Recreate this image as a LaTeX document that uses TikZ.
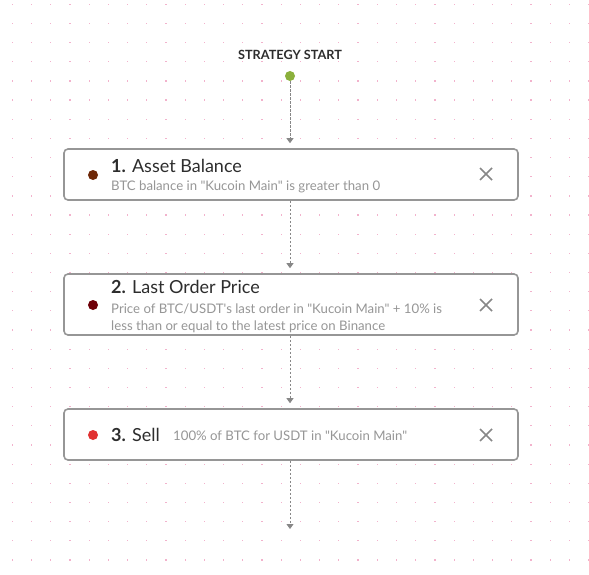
\documentclass[tikz,border=0pt]{standalone}
\usepackage{fontspec}
\setmainfont{Lato}[Ligatures=TeXOff]
\usetikzlibrary{arrows.meta,calc}
\definecolor{gridpink}{RGB}{242,178,204}
\definecolor{boxgray}{RGB}{150,150,150}
\definecolor{subgray}{RGB}{150,150,150}
\definecolor{titlegray}{RGB}{45,45,45}
\definecolor{startgreen}{RGB}{139,176,60}
\definecolor{brown1}{RGB}{110,40,8}
\definecolor{darkred2}{RGB}{110,0,8}
\definecolor{red3}{RGB}{225,50,50}
\definecolor{linegray}{RGB}{135,135,135}
\tikzset{
  px/.style={x=1pt,y=-1pt},
  stepbox/.style={draw=boxgray,line width=1.6pt,rounded corners=4pt,fill=white,minimum width=454pt,inner sep=0pt},
  dotmark/.style={circle,inner sep=0pt,minimum size=10pt},
  closex/.style={draw=linegray,line width=1.6pt},
  flow/.style={draw=linegray,line width=0.8pt,dash pattern=on 2.5pt off 1.5pt,shorten >=5pt,-{Triangle[length=5pt,width=7pt]}},
  ttl/.style={anchor=base west,text=titlegray,font=\fontsize{18}{20}\selectfont,inner sep=0pt},
  sub/.style={anchor=base west,text=subgray,font=\fontsize{13.2}{17.5}\selectfont,inner sep=0pt,align=left},
}
\begin{document}
\begin{tikzpicture}[px]
\useasboundingbox (0,0) rectangle (589,575);
\fill[white] (0,0) rectangle (589,575);
\foreach \i in {0,...,30}{
  \foreach \j in {0,...,29}{
    \fill[gridpink] ({12.3+19.21*\i-0.6},{4.3+19.16*\j-0.6}) rectangle ++(1.2,1.2);
  }
}
% start
\node[font=\bfseries\fontsize{12.7}{14}\selectfont,text=titlegray] (start) at (290,55) {STRATEGY START};
\node[dotmark,fill=startgreen] (sdot) at (290,76) {};
% boxes
\node[stepbox,minimum height=51pt] (b1) at (291,174.5) {};
\node[stepbox,minimum height=61pt] (b2) at (291,304.5) {};
\node[stepbox,minimum height=51pt] (b3) at (291,434.5) {};
% connectors
\coordinate (endpt) at (290,534);
\draw[flow] (sdot.south) -- (b1.north -| sdot);
\draw[flow] (b1.south -| sdot) -- (b2.north -| sdot);
\draw[flow] (b2.south -| sdot) -- (b3.north -| sdot);
\draw[flow] (b3.south -| sdot) -- (endpt);
% box 1
\node[dotmark,fill=brown1] (d1) at (93,175) {};
\node[ttl] (t1) at (111,172) {\textbf{1.} Asset Balance};
\node[sub] (s1) at (111,190) {BTC balance in "Kucoin Main" is greater than 0};
\coordinate (x1) at (486,174);
\draw[closex] ($(x1)+(-6,-6)$) -- ($(x1)+(6,6)$) ($(x1)+(-6,6)$) -- ($(x1)+(6,-6)$);
% box 2
\node[dotmark,fill=darkred2] (d2) at (93,305) {};
\node[ttl] (t2) at (111,293) {\textbf{2.} Last Order Price};
\node[sub] (s2) at (111,330.5) {Price of BTC/USDT's last order in "Kucoin Main" + 10\% is\\less than or equal to the latest price on Binance};
\coordinate (x2) at (486,305);
\draw[closex] ($(x2)+(-6,-6)$) -- ($(x2)+(6,6)$) ($(x2)+(-6,6)$) -- ($(x2)+(6,-6)$);
% box 3
\node[dotmark,fill=red3] (d3) at (93,435) {};
\node[ttl] (t3) at (111,441) {\textbf{3.} Sell};
\node[sub] (s3) at (173,440.5) {100\% of BTC for USDT in "Kucoin Main"};
\coordinate (x3) at (486,435);
\draw[closex] ($(x3)+(-6,-6)$) -- ($(x3)+(6,6)$) ($(x3)+(-6,6)$) -- ($(x3)+(6,-6)$);
\end{tikzpicture}
\end{document}
